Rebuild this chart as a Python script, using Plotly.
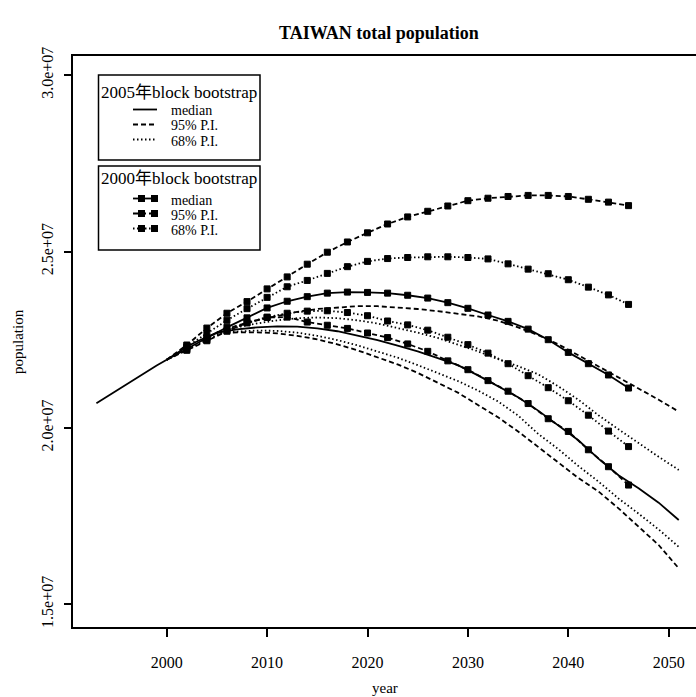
import plotly.graph_objects as go

# ---- data -----------------------------------------------------------------
obs_years = list(range(1993, 2006))
obs_pop = [2.070e7, 2.088e7, 2.106e7, 2.124e7, 2.141e7, 2.160e7, 2.177e7,
           2.193e7, 2.212e7, 2.230e7, 2.245e7, 2.258e7, 2.270e7]

# 2005 block bootstrap projections
years_2005 = list(range(2005, 2052, 2))
med_2005 = [2.270e7, 2.279e7, 2.285e7, 2.288e7, 2.287e7, 2.282e7, 2.274e7, 2.262e7,
            2.249e7, 2.233e7, 2.217e7, 2.198e7, 2.178e7, 2.149e7, 2.119e7, 2.087e7,
            2.049e7, 2.008e7, 1.965e7, 1.913e7, 1.866e7, 1.829e7, 1.788e7, 1.739e7]
up95_2005 = [2.270e7, 2.290e7, 2.305e7, 2.318e7, 2.329e7, 2.337e7, 2.342e7, 2.345e7,
             2.345e7, 2.342e7, 2.337e7, 2.331e7, 2.324e7, 2.316e7, 2.304e7, 2.285e7,
             2.263e7, 2.237e7, 2.206e7, 2.175e7, 2.144e7, 2.112e7, 2.080e7, 2.046e7]
lo95_2005 = [2.270e7, 2.270e7, 2.271e7, 2.268e7, 2.261e7, 2.251e7, 2.237e7, 2.220e7,
             2.200e7, 2.180e7, 2.156e7, 2.129e7, 2.100e7, 2.065e7, 2.030e7, 1.990e7,
             1.946e7, 1.902e7, 1.858e7, 1.820e7, 1.772e7, 1.720e7, 1.668e7, 1.602e7]
up68_2005 = [2.270e7, 2.285e7, 2.296e7, 2.305e7, 2.311e7, 2.313e7, 2.311e7, 2.305e7,
             2.296e7, 2.284e7, 2.270e7, 2.255e7, 2.237e7, 2.217e7, 2.195e7, 2.175e7,
             2.152e7, 2.118e7, 2.080e7, 2.036e7, 1.996e7, 1.956e7, 1.918e7, 1.881e7]
lo68_2005 = [2.270e7, 2.273e7, 2.276e7, 2.275e7, 2.270e7, 2.261e7, 2.249e7, 2.234e7,
             2.217e7, 2.199e7, 2.178e7, 2.155e7, 2.133e7, 2.106e7, 2.075e7, 2.035e7,
             1.983e7, 1.940e7, 1.892e7, 1.848e7, 1.800e7, 1.757e7, 1.712e7, 1.663e7]

# 2000 block bootstrap projections
years_2000 = list(range(2000, 2047, 2))
med_2000 = [2.193e7, 2.225e7, 2.255e7, 2.285e7, 2.312e7, 2.340e7, 2.359e7, 2.372e7,
            2.382e7, 2.385e7, 2.384e7, 2.382e7, 2.376e7, 2.368e7, 2.355e7, 2.339e7,
            2.320e7, 2.302e7, 2.280e7, 2.250e7, 2.214e7, 2.182e7, 2.150e7, 2.113e7]
up95_2000 = [2.193e7, 2.235e7, 2.283e7, 2.325e7, 2.358e7, 2.394e7, 2.428e7, 2.464e7,
             2.498e7, 2.527e7, 2.553e7, 2.578e7, 2.598e7, 2.614e7, 2.629e7, 2.644e7,
             2.651e7, 2.656e7, 2.659e7, 2.659e7, 2.656e7, 2.648e7, 2.640e7, 2.630e7]
lo95_2000 = [2.193e7, 2.220e7, 2.247e7, 2.274e7, 2.298e7, 2.313e7, 2.314e7, 2.300e7,
             2.291e7, 2.282e7, 2.269e7, 2.256e7, 2.238e7, 2.217e7, 2.190e7, 2.165e7,
             2.134e7, 2.104e7, 2.069e7, 2.026e7, 1.990e7, 1.938e7, 1.890e7, 1.838e7]
up68_2000 = [2.193e7, 2.230e7, 2.268e7, 2.305e7, 2.338e7, 2.370e7, 2.400e7, 2.418e7,
             2.438e7, 2.457e7, 2.472e7, 2.480e7, 2.483e7, 2.485e7, 2.485e7, 2.483e7,
             2.479e7, 2.465e7, 2.450e7, 2.437e7, 2.420e7, 2.399e7, 2.377e7, 2.350e7]
lo68_2000 = [2.193e7, 2.222e7, 2.250e7, 2.276e7, 2.298e7, 2.314e7, 2.325e7, 2.331e7,
             2.332e7, 2.327e7, 2.318e7, 2.303e7, 2.292e7, 2.277e7, 2.257e7, 2.236e7,
             2.212e7, 2.182e7, 2.148e7, 2.114e7, 2.077e7, 2.036e7, 1.991e7, 1.947e7]

x_ticks = [2000, 2010, 2020, 2030, 2040, 2050]
y_ticks = [1.5e7, 2.0e7, 2.5e7, 3.0e7]
y_tick_labels = ["1.5e+07", "2.0e+07", "2.5e+07", "3.0e+07"]

# ---- styling --------------------------------------------------------------
W, H = 696, 697
L, R, T, B = 73, 696, 56, 627          # plot-area edges in pixels
SERIF = "Liberation Serif, Noto Sans CJK SC, serif"
INK = "black"
LW = 1.8
DASH = "5px,3px"
DOT = "1.5px,2.5px"
MSIZE = 6


def px(x):
    return (x - L) / (R - L)


def py(y):
    return (B - y) / (B - T)


fig = go.Figure()

fig.add_trace(go.Scatter(x=obs_years, y=obs_pop, mode="lines",
                         line=dict(color=INK, width=LW), showlegend=False))

for vals, dash in [(med_2005, "solid"), (up95_2005, DASH), (lo95_2005, DASH),
                   (up68_2005, DOT), (lo68_2005, DOT)]:
    fig.add_trace(go.Scatter(x=years_2005, y=vals, mode="lines",
                             line=dict(color=INK, width=LW, dash=dash),
                             showlegend=False))

# base-year point is the observed value, so it carries no marker
msizes = [0] + [MSIZE] * (len(years_2000) - 1)
mlines = [0] + [1] * (len(years_2000) - 1)
for vals, dash in [(med_2000, "solid"), (up95_2000, DASH), (lo95_2000, DASH),
                   (up68_2000, DOT), (lo68_2000, DOT)]:
    fig.add_trace(go.Scatter(x=years_2000, y=vals, mode="lines+markers",
                             line=dict(color=INK, width=LW, dash=dash),
                             marker=dict(symbol="square", size=msizes, color=INK,
                                         opacity=1,
                                         line=dict(width=mlines, color=INK)),
                             showlegend=False))

# ---- legend boxes ---------------------------------------------------------
shapes = []
annotations = []


def box(x0, y0, x1, y1):
    shapes.append(dict(type="rect", xref="paper", yref="paper",
                       x0=px(x0), x1=px(x1), y0=py(y0), y1=py(y1),
                       line=dict(color=INK, width=1.5), fillcolor="white", layer="above"))


def text(x, y, s, size=15, anchor="left"):
    annotations.append(dict(x=px(x), y=py(y), xref="paper", yref="paper", text=s,
                            showarrow=False, xanchor=anchor, yanchor="middle",
                            borderpad=0,
                            font=dict(family=SERIF, size=size, color=INK)))


def sample(y, dash, markers=False):
    shapes.append(dict(type="line", xref="paper", yref="paper",
                       x0=px(133), x1=px(157), y0=py(y), y1=py(y),
                       line=dict(color=INK, width=LW, dash=dash), layer="above"))
    if markers:
        for mx in (141.5, 154.5):
            shapes.append(dict(type="rect", xref="paper", yref="paper",
                               x0=px(mx - 3.5), x1=px(mx + 3.5), y0=py(y - 3.5), y1=py(y + 3.5),
                               line=dict(width=0), fillcolor=INK, layer="above"))


ROW_FONT = 14
ROW_GAP = 15
box(98.5, 75, 260, 160)
text(99.5, 92, "2005年block bootstrap", size=17)
for i, (dash, label) in enumerate([("solid", "median"), (DASH, "95% P.I."),
                                   (DOT, "68% P.I.")]):
    ty = 111 + i * ROW_GAP
    sample(ty - 1.5, dash)
    text(170, ty, label, size=ROW_FONT)

box(98.5, 166, 260, 250)
text(99.5, 178, "2000年block bootstrap", size=17)
for i, (dash, label) in enumerate([("solid", "median"), (DASH, "95% P.I."),
                                   (DOT, "68% P.I.")]):
    ty = 200 + i * ROW_GAP
    sample(ty - 1.5, dash, markers=True)
    text(170, ty, label, size=ROW_FONT)

# ---- titles ---------------------------------------------------------------
text(379, 33, "<b>TAIWAN total population</b>", size=18, anchor="center")
text(385, 688, "year", size=15, anchor="center")
annotations.append(dict(x=px(18), y=py(342), xref="paper", yref="paper",
                        text="population", showarrow=False, textangle=-90,
                        xanchor="center", yanchor="middle",
                        font=dict(family=SERIF, size=15, color=INK)))

x0_year = 2000 - (166.7 - L) / 10.04
x1_year = x0_year + (R - L) / 10.04
y_bottom = 1.5e7 - (B - 604.3) * 28345
y_top = 1.5e7 + (604.3 - T) * 28345

fig.update_layout(
    width=W, height=H,
    margin=dict(l=L, r=W - R, t=T, b=H - B),
    paper_bgcolor="white", plot_bgcolor="white",
    font=dict(family=SERIF, size=16, color=INK),
    shapes=shapes, annotations=annotations,
    showlegend=False,
    xaxis=dict(range=[x0_year, x1_year], tickvals=x_ticks,
               ticks="outside", ticklen=8, tickwidth=1.5, tickcolor=INK,
               showline=True, linewidth=2, linecolor=INK, mirror=True,
               showgrid=False, zeroline=False, automargin=False,
               ticklabelstandoff=12, tickfont=dict(size=16)),
    yaxis=dict(range=[y_bottom, y_top], tickvals=y_ticks, ticktext=y_tick_labels,
               tickangle=-90, ticks="outside", ticklen=7, tickwidth=1.5, tickcolor=INK,
               showline=True, linewidth=2, linecolor=INK,
               showgrid=False, zeroline=False, automargin=False,
               ticklabelstandoff=5, tickfont=dict(size=16)),
)

fig.write_html("out.html")
